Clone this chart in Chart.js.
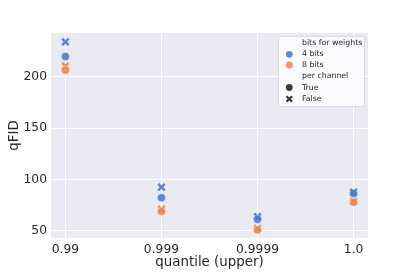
<!DOCTYPE html>
<html>
<head>
<meta charset="utf-8">
<script src="https://cdn.jsdelivr.net/npm/chart.js@4/dist/chart.umd.min.js"></script>
<style>
    html, body { margin: 0; padding: 0; background: #fff; }
    #wrap { width: 409px; height: 273px; position: relative; }
</style>
</head>
<body>
<div id="wrap"><canvas id="qfidChart"></canvas></div>
<script>
// Data
const quantiles = ['0.99', '0.999', '0.9999', '1.0'];
const yTicks = [50, 100, 150, 200];

const fid4True = [219.5, 82.1, 61.2, 86.3];
const fid4False = [233.8, 92.5, 63.6, 87.4];
const fid8True = [206.3, 68.6, 50.8, 77.6];
const fid8False = [210.4, 71.0, 52.3, 78.6];

const hueTitle = 'bits for weights';
const hueLabels = ['4 bits', '8 bits'];
const styleTitle = 'per channel';
const styleLabels = ['True', 'False'];

const BLUE = 'rgba(72, 120, 208, 0.88)';
const ORANGE = 'rgba(238, 133, 74, 0.88)';
const DARK = '#3b3b3b';
const TEXT = '#262626';
const FONT = "'DejaVu Sans', sans-serif";

function toPoints(values) {
    return values.map((v, i) => ({ x: i, y: v }));
}

function circleSet(label, values, color) {
    return {
        label: label,
        data: toPoints(values),
        pointStyle: 'circle',
        pointRadius: 4,
        backgroundColor: color,
        borderColor: 'rgba(255,255,255,0.6)',
        borderWidth: 0.5
    };
}

function crossSet(label, values, color) {
    return {
        label: label,
        data: toPoints(values),
        pointStyle: 'crossRot',
        pointRadius: 4.6,
        backgroundColor: color,
        borderColor: color,
        borderWidth: 2.6
    };
}

// Legend drawn inside the plot area, top right
const insideLegend = {
    id: 'insideLegend',
    afterDatasetsDraw(chart) {
        const ctx = chart.ctx;
        const x0 = 278, y0 = 36, w = 86, h = 70;
        ctx.save();
        ctx.fillStyle = 'rgba(255,255,255,0.8)';
        ctx.strokeStyle = '#d4d4d8';
        ctx.lineWidth = 0.8;
        ctx.beginPath();
        ctx.roundRect(x0 + 0.5, y0 + 0.5, w, h, 2);
        ctx.fill();
        ctx.stroke();

        const rows = [
            { text: hueTitle, marker: null },
            { text: hueLabels[0], marker: 'circle', color: BLUE },
            { text: hueLabels[1], marker: 'circle', color: ORANGE },
            { text: styleTitle, marker: null },
            { text: styleLabels[0], marker: 'circle', color: DARK },
            { text: styleLabels[1], marker: 'cross', color: DARK }
        ];
        const rowY = [43.3, 54.3, 65, 76, 87.5, 99];
        ctx.font = '7.8px ' + FONT;
        ctx.textBaseline = 'middle';
        ctx.textAlign = 'left';
        rows.forEach((row, i) => {
            const y = rowY[i];
            ctx.fillStyle = TEXT;
            ctx.fillText(row.text, 302, y);
            if (row.marker === 'circle') {
                ctx.fillStyle = row.color;
                ctx.beginPath();
                ctx.arc(289.3, y, 3.4, 0, Math.PI * 2);
                ctx.fill();
            } else if (row.marker === 'cross') {
                ctx.strokeStyle = row.color;
                ctx.lineWidth = 2.3;
                ctx.beginPath();
                ctx.moveTo(286.5, y - 2.8);
                ctx.lineTo(292.1, y + 2.8);
                ctx.moveTo(292.1, y - 2.8);
                ctx.lineTo(286.5, y + 2.8);
                ctx.stroke();
            }
        });
        ctx.restore();
    }
};

// Seaborn-like grey plot background
const plotBackground = {
    id: 'plotBackground',
    beforeDraw(chart) {
        const { ctx, chartArea } = chart;
        ctx.save();
        ctx.fillStyle = '#eaeaf2';
        ctx.fillRect(chartArea.left, chartArea.top,
            chartArea.right - chartArea.left, chartArea.bottom - chartArea.top);
        ctx.restore();
    }
};

const ctx = document.getElementById('qfidChart').getContext('2d');
new Chart(ctx, {
    type: 'scatter',
    data: {
        datasets: [
            circleSet('4 bits / True', fid4True, BLUE),
            circleSet('8 bits / True', fid8True, ORANGE),
            crossSet('4 bits / False', fid4False, BLUE),
            crossSet('8 bits / False', fid8False, ORANGE)
        ]
    },
    options: {
        responsive: true,
        maintainAspectRatio: false,
        animation: false,
        layout: {
            padding: { top: 33, right: 41, bottom: 0, left: 0 }
        },
        scales: {
            x: {
                type: 'linear',
                min: -0.15,
                max: 3.15,
                afterBuildTicks: scale => {
                    scale.ticks = quantiles.map((q, i) => ({ value: i }));
                },
                afterFit: scale => { scale.height = 35; },
                ticks: {
                    callback: (value) => quantiles[value],
                    color: TEXT,
                    font: { family: FONT, size: 12.3 },
                    padding: 4,
                    maxRotation: 0
                },
                grid: { color: '#ffffff', lineWidth: 1, drawTicks: false },
                border: { display: false },
                title: {
                    display: true,
                    text: 'quantile (upper)',
                    color: TEXT,
                    font: { family: FONT, size: 13.4 },
                    padding: { top: 0, bottom: 2.3 }
                }
            },
            y: {
                min: 42.9,
                max: 242.5,
                afterBuildTicks: scale => {
                    scale.ticks = yTicks.map(v => ({ value: v }));
                },
                afterFit: scale => { scale.width = 51; },
                ticks: {
                    color: TEXT,
                    font: { family: FONT, size: 12.3 },
                    padding: 4
                },
                grid: { color: '#ffffff', lineWidth: 1, drawTicks: false },
                border: { display: false },
                title: {
                    display: true,
                    text: 'qFID',
                    color: TEXT,
                    font: { family: FONT, size: 13.4 },
                    padding: { top: 6, bottom: 0 }
                }
            }
        },
        plugins: {
            legend: { display: false },
            tooltip: { enabled: false }
        }
    },
    plugins: [plotBackground, insideLegend]
});
</script>
</body>
</html>
